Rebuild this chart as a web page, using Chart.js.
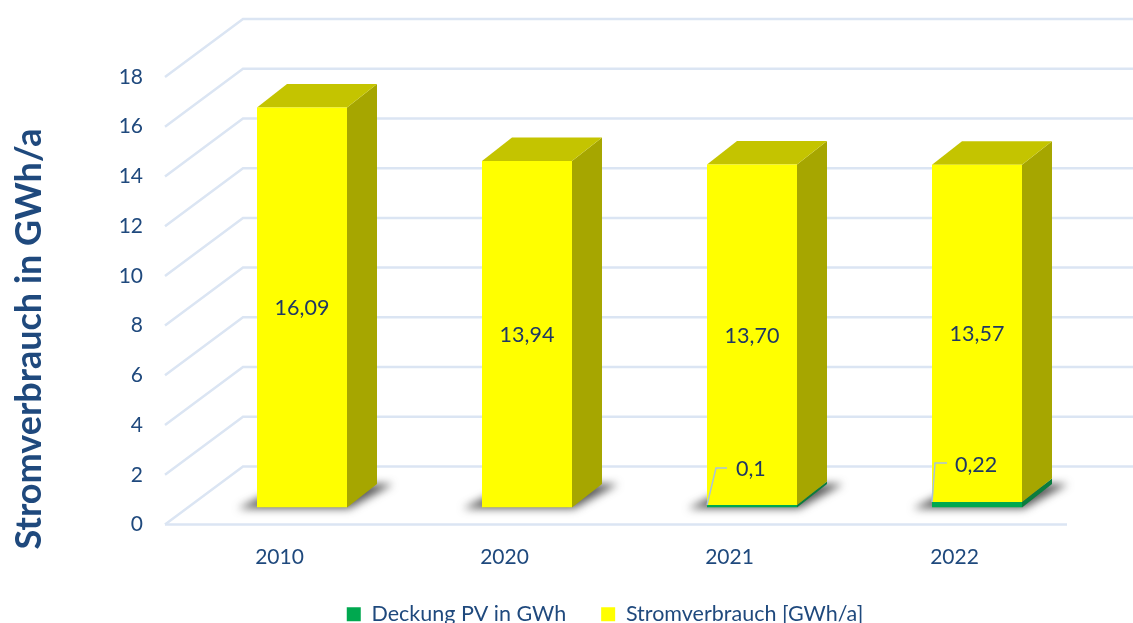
<!DOCTYPE html>
<html>
<head>
<meta charset="utf-8">
<title>Stromverbrauch</title>
<script src="https://cdn.jsdelivr.net/npm/chart.js@4"></script>
<style>
    html, body { margin: 0; padding: 0; background: #fff; overflow: hidden; }
    canvas { display: block; }
</style>
</head>
<body>
<canvas id="chart1" width="1133" height="623"></canvas>
<script>
const years = ['2010', '2020', '2021', '2022'];
const deckungPV = [0, 0, 0.1, 0.22];
const stromverbrauch = [16.09, 13.94, 13.70, 13.57];
const yTicks = [0, 2, 4, 6, 8, 10, 12, 14, 16, 18];

// 3D look: how far the back wall and the bars are pushed
const wallDepth = { x: 78, y: -58 };
const barShift = { x: 22.5, y: -17 };
const barDepth = { x: 30, y: -23.5 };
// leader lines of the small PV labels, relative to the bar's left edge
const leaders = {
    2: { knee: [9, 468], end: [20, 468], textX: 29, textY: 469 },
    3: { knee: [3, 463], end: [15, 463], textX: 23, textY: 465 },
};

const textColor = '#1f497d';
const labelColor = '#1f3864';
const font = 'Lato';

function polygon(ctx, points, color) {
    ctx.fillStyle = color;
    ctx.beginPath();
    points.forEach((p, i) => (i ? ctx.lineTo(p[0], p[1]) : ctx.moveTo(p[0], p[1])));
    ctx.closePath();
    ctx.fill();
}

function drawWall(chart) {
    const ctx = chart.ctx;
    const left = chart.chartArea.left - 2;
    ctx.save();
    ctx.strokeStyle = '#dbe5f3';
    ctx.lineWidth = 2.5;
    yTicks.forEach((tick) => {
        const y = chart.scales.y.getPixelForValue(tick);
        ctx.beginPath();
        ctx.moveTo(left, y);
        ctx.lineTo(left + wallDepth.x, y + wallDepth.y);
        ctx.lineTo(chart.width, y + wallDepth.y);
        ctx.stroke();
    });
    // front edge of the floor
    const y0 = chart.scales.y.getPixelForValue(0);
    ctx.beginPath();
    ctx.moveTo(left, y0);
    ctx.lineTo(chart.chartArea.right, y0);
    ctx.stroke();
    ctx.restore();
}

function drawBarSides(chart) {
    const ctx = chart.ctx;
    const dx = barDepth.x;
    const dy = barDepth.y;

    chart.getDatasetMeta(1).data.forEach((bar, i) => {
        const left = bar.x - bar.width / 2;
        const right = bar.x + bar.width / 2;
        const base = chart.getDatasetMeta(0).data[i].base;
        ctx.save();
        ctx.filter = 'blur(4px)';
        polygon(ctx, [[left - 19, base + 1], [right + 2, base + 1], [right + dx + 16, base + dy], [left + dx, base + dy]], 'rgba(50, 50, 50, 0.8)');
        ctx.restore();
    });

    [['#0a7d3e', 0], ['#a6a600', 1]].forEach(([color, i]) => {
        chart.getDatasetMeta(i).data.forEach((bar) => {
            const right = bar.x + bar.width / 2;
            polygon(ctx, [[right, bar.y], [right + dx, bar.y + dy], [right + dx, bar.base + dy], [right, bar.base]], color);
        });
    });

    chart.getDatasetMeta(1).data.forEach((bar) => {
        const left = bar.x - bar.width / 2;
        const right = bar.x + bar.width / 2;
        polygon(ctx, [[left, bar.y], [left + dx, bar.y + dy], [right + dx, bar.y + dy], [right, bar.y]], '#c4c400');
    });
}

function drawLabels(chart) {
    const ctx = chart.ctx;
    ctx.font = '21.5px ' + font;
    ctx.fillStyle = labelColor;
    ctx.textBaseline = 'middle';

    ctx.textAlign = 'center';
    chart.getDatasetMeta(1).data.forEach((bar, i) => {
        ctx.fillText(stromverbrauch[i].toFixed(2).replace('.', ','), bar.x, (bar.y + bar.base) / 2 + 1);
    });

    ctx.textAlign = 'left';
    chart.getDatasetMeta(0).data.forEach((bar, i) => {
        const l = leaders[i];
        if (!l) return;
        const left = bar.x - bar.width / 2;
        ctx.strokeStyle = '#a9c1de';
        ctx.lineWidth = 1.5;
        ctx.beginPath();
        ctx.moveTo(left, bar.y);
        ctx.lineTo(left + l.knee[0], l.knee[1] - barShift.y);
        ctx.lineTo(left + l.end[0], l.end[1] - barShift.y);
        ctx.stroke();
        ctx.fillText(String(deckungPV[i]).replace('.', ','), left + l.textX, l.textY - barShift.y);
    });
}

const bars3d = {
    id: 'bars3d',
    afterLayout(chart) {
        // the tick labels are clipped to the axis box, which is kept narrow for the legend centring
        chart.scales.y.left = 90;
    },
    beforeDatasetsDraw(chart) {
        drawWall(chart);
        chart.ctx.save();
        chart.ctx.translate(barShift.x, barShift.y);
        drawBarSides(chart);
    },
    afterDatasetsDraw(chart) {
        drawLabels(chart);
        chart.ctx.restore();
    },
    afterDraw(chart) {
        // axis title sits lower than the plot centre, so it is placed by hand
        const ctx = chart.ctx;
        ctx.save();
        ctx.translate(41, 339);
        ctx.rotate(-Math.PI / 2);
        ctx.font = 'bold 36px ' + font;
        ctx.fillStyle = textColor;
        ctx.textAlign = 'center';
        ctx.textBaseline = 'alphabetic';
        ctx.fillText('Stromverbrauch in GWh/a', 0, 0);
        ctx.restore();
    },
};

new Chart(document.getElementById('chart1').getContext('2d'), {
    type: 'bar',
    plugins: [bars3d],
    data: {
        labels: years,
        datasets: [
            {
                label: 'Deckung PV in GWh',
                data: deckungPV,
                backgroundColor: '#00a84f',
                categoryPercentage: 1,
                barPercentage: 0.4,
            },
            {
                label: 'Stromverbrauch [GWh/a]',
                data: stromverbrauch,
                backgroundColor: '#ffff00',
                categoryPercentage: 1,
                barPercentage: 0.4,
            },
        ],
    },
    options: {
        responsive: false,
        animation: false,
        layout: {
            padding: { left: 143, right: 66, top: 77, bottom: -12 },
        },
        plugins: {
            tooltip: { enabled: false },
            legend: {
                position: 'bottom',
                labels: {
                    color: textColor,
                    font: { family: font, size: 21.5 },
                    boxWidth: 14,
                    boxHeight: 14,
                    padding: 35,
                },
            },
        },
        scales: {
            x: {
                stacked: true,
                grid: { display: false },
                border: { display: false },
                ticks: {
                    color: textColor,
                    font: { family: font, size: 21 },
                    padding: 12,
                },
                afterFit: (scale) => { scale.height = 44; },
            },
            y: {
                stacked: true,
                min: 0,
                max: 18,
                grid: { display: false },
                border: { display: false },
                ticks: {
                    color: textColor,
                    font: { family: font, size: 21 },
                    stepSize: 2,
                    padding: 16,
                },
                afterFit: (scale) => { scale.width = 24; },
            },
        },
    },
});
</script>
</body>
</html>
